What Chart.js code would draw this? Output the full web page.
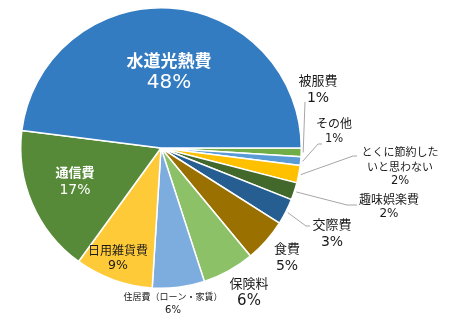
<!DOCTYPE html>
<html>
<head>
<meta charset="utf-8">
<script src="https://cdn.jsdelivr.net/npm/chart.js@4"></script>
<style>
  html, body { margin: 0; padding: 0; background: #fff; }
  canvas { display: block; }
</style>
</head>
<body>
<canvas id="pieChart" width="451" height="323"></canvas>
<script>
// data, clockwise from 3 o'clock
const categories = ['被服費', 'その他', 'とくに節約したいと思わない', '趣味娯楽費', '交際費', '食費', '保険料', '住居費（ローン・家賃）', '日用雑貨費', '通信費', '水道光熱費'];
const percents = [1, 1, 2, 2, 3, 5, 6, 6, 9, 17, 48];
const sliceColors = ['#70ad47', '#5b9bd5', '#ffc000', '#43682b', '#265e91', '#9a7000', '#8cc168', '#7dadde', '#ffca38', '#578a38', '#347cc1'];

// label layout, offsets from pie centre (px)
const labelLayout = [
  { dx: 157, dy: [-68, -50], size: [13, 14], color: '#1a1a1a', leader: [[144, -46]] },
  { dx: 173, dy: [-25, -9], size: [12, 11.5], color: '#1a1a1a', leader: [[157, -4], [161, -4]] },
  { dx: 239, dy: [4, 19, 33], size: [11, 11.5], color: '#1a1a1a', split: 7, leader: [[192, 8], [196, 8]] },
  { dx: 228, dy: [51, 66], size: [12, 12], color: '#1a1a1a', leader: [[186, 57], [196, 57]] },
  { dx: 171, dy: [76, 94], size: [13, 14], color: '#1a1a1a', leader: [[145, 78], [149, 78]] },
  { dx: 126, dy: [100, 118], size: [13, 14], color: '#1a1a1a' },
  { dx: 88, dy: [135, 153], size: [13, 15], color: '#1a1a1a' },
  { dx: 12, dy: [149, 162], size: [9, 10], color: '#1a1a1a' },
  { dx: -43, dy: [102, 118], size: [12, 12.5], color: '#1a1a1a' },
  { dx: -86, dy: [24, 42], size: [13, 14], color: '#fff', bold: true },
  { dx: 8, dy: [-87, -65], size: [17, 20], color: '#fff', bold: true }
];

const labelPlugin = {
  id: 'pieLabels',
  afterDatasetsDraw(chart) {
    const ctx = chart.ctx;
    const arcs = chart.getDatasetMeta(0).data;
    ctx.save();
    ctx.textAlign = 'center';
    ctx.textBaseline = 'middle';
    arcs.forEach((arc, i) => {
      const lay = labelLayout[i];
      const cx = arc.x, cy = arc.y;
      if (lay.leader) {
        const mid = (arc.startAngle + arc.endAngle) / 2;
        const r = arc.outerRadius + 2;
        ctx.beginPath();
        ctx.strokeStyle = '#a6a6a6';
        ctx.lineWidth = 1;
        ctx.moveTo(cx + Math.cos(mid) * r, cy + Math.sin(mid) * r);
        lay.leader.forEach(p => ctx.lineTo(cx + p[0], cy + p[1]));
        ctx.stroke();
      }
      const name = categories[i];
      const nameLines = lay.split ? [name.slice(0, lay.split), name.slice(lay.split)] : [name];
      ctx.fillStyle = lay.color;
      ctx.font = (lay.bold ? 'bold ' : '') + lay.size[0] + 'px "Noto Sans CJK JP"';
      nameLines.forEach((t, k) => ctx.fillText(t, cx + lay.dx, cy + lay.dy[k]));
      // percentages in a Verdana-like face
      ctx.font = lay.size[1] + 'px "DejaVu Sans", "Noto Sans CJK JP"';
      ctx.fillText(percents[i] + '%', cx + lay.dx, cy + lay.dy[nameLines.length]);
    });
    ctx.restore();
  }
};

new Chart('pieChart', {
  type: 'pie',
  data: {
    labels: categories,
    datasets: [{
      data: percents,
      backgroundColor: sliceColors,
      borderColor: '#ffffff',
      borderWidth: 1.5
    }]
  },
  options: {
    responsive: false,
    animation: false,
    devicePixelRatio: 1,
    rotation: 90,
    layout: { padding: { top: 7, bottom: 34, left: 0, right: 129 } },
    plugins: {
      legend: { display: false },
      tooltip: { enabled: false }
    }
  },
  plugins: [labelPlugin]
});
</script>
</body>
</html>
